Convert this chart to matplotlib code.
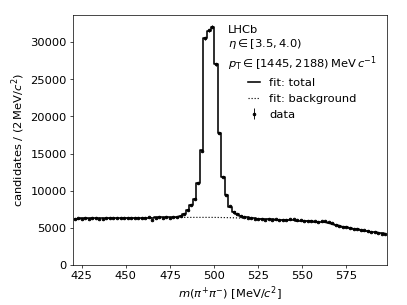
import numpy as np
import matplotlib
matplotlib.use("Agg")
import matplotlib.pyplot as plt
from matplotlib.ticker import MultipleLocator

plt.rcParams["font.size"] = 13

# bin centres of the 2 MeV bins
mass = np.arange(421, 598, 2)

data = [6200, 6290, 6240, 6310, 6260, 6300, 6330, 6250, 6200, 6280,
        6330, 6290, 6360, 6300, 6270, 6340, 6310, 6380, 6330, 6290,
        6350, 6400, 6120, 6370, 6410, 6360, 6420, 6380, 6430, 6470,
        6560, 6820, 7380, 8050, 8900, 11000, 15400, 30500, 31600, 32100,
        27000, 17800, 11900, 9400, 7900, 7150, 6900, 6650, 6500, 6380,
        6300, 6250, 6180, 6210, 6120, 6150, 6080, 6130, 6020, 6060,
        6080, 6180, 6150, 6090, 6010, 5960, 5990, 5890, 5870, 5850,
        5880, 5940, 5750, 5600, 5400, 5250, 5150, 5080, 4950, 4880,
        4800, 4690, 4650, 4560, 4460, 4390, 4340, 4230, 4150]

fit_total = [6252, 6257, 6264, 6270, 6277, 6283, 6290, 6296, 6303, 6309,
             6315, 6321, 6327, 6333, 6339, 6345, 6351, 6357, 6363, 6369,
             6375, 6382, 6389, 6397, 6406, 6416, 6428, 6442, 6460, 6490,
             6560, 6800, 7400, 8050, 8900, 11000, 15500, 30600, 31500, 32100,
             27000, 17800, 11900, 9450, 7870, 7200, 6880, 6660, 6520, 6420,
             6350, 6290, 6250, 6215, 6185, 6160, 6135, 6110, 6088, 6065,
             6042, 6018, 5994, 5970, 5945, 5920, 5894, 5867, 5839, 5810,
             5779, 5745, 5690, 5575, 5437, 5298, 5169, 5059, 4959, 4869,
             4784, 4704, 4624, 4549, 4474, 4399, 4324, 4249, 4174]

fit_background = [6250, 6255, 6262, 6268, 6275, 6280, 6287, 6293, 6300, 6305,
                  6311, 6317, 6322, 6328, 6333, 6338, 6343, 6348, 6353, 6358,
                  6362, 6367, 6371, 6375, 6379, 6383, 6387, 6391, 6395, 6398,
                  6401, 6404, 6406, 6408, 6410, 6411, 6412, 6412, 6411, 6409,
                  6405, 6398, 6390, 6380, 6368, 6355, 6340, 6324, 6307, 6289,
                  6270, 6251, 6231, 6211, 6190, 6169, 6148, 6126, 6104, 6082,
                  6059, 6036, 6012, 5988, 5963, 5938, 5912, 5885, 5857, 5828,
                  5797, 5762, 5700, 5580, 5440, 5300, 5170, 5060, 4960, 4870,
                  4785, 4705, 4625, 4550, 4475, 4400, 4325, 4250, 4175]

fig = plt.figure(figsize=(6.4, 4.8), dpi=63.6)
ax = fig.add_axes([0.179, 0.131, 0.772, 0.82])

ax.step(mass, fit_total, where="mid", color="k", lw=1.8, label="fit: total")
ax.plot(mass, fit_background, "k:", lw=1.3, label="fit: background")
ax.errorbar(mass, data, yerr=np.sqrt(data), fmt=".", color="k", ms=6,
            elinewidth=1, label="data", zorder=3)

ax.set_xlim(420, 598)
ax.set_ylim(0, 33700)
ax.xaxis.set_major_locator(MultipleLocator(25))
ax.set_xlabel(r"$m(\pi^{+}\pi^{-})$ [MeV/$c^2$]")
ax.set_ylabel(r"candidates / $(2\,\mathrm{MeV}/c^2)$")

title = ("LHCb\n" r"$\eta \in [3.5, 4.0)$" "\n"
         r"$p_{\mathrm{T}} \in [1445, 2188)\,\mathrm{MeV}\,c^{-1}$")
ax.legend(title=title, loc="upper right", frameon=False, handlelength=1,
          title_fontsize=13)

fig.savefig("out.png", dpi=63.6)
